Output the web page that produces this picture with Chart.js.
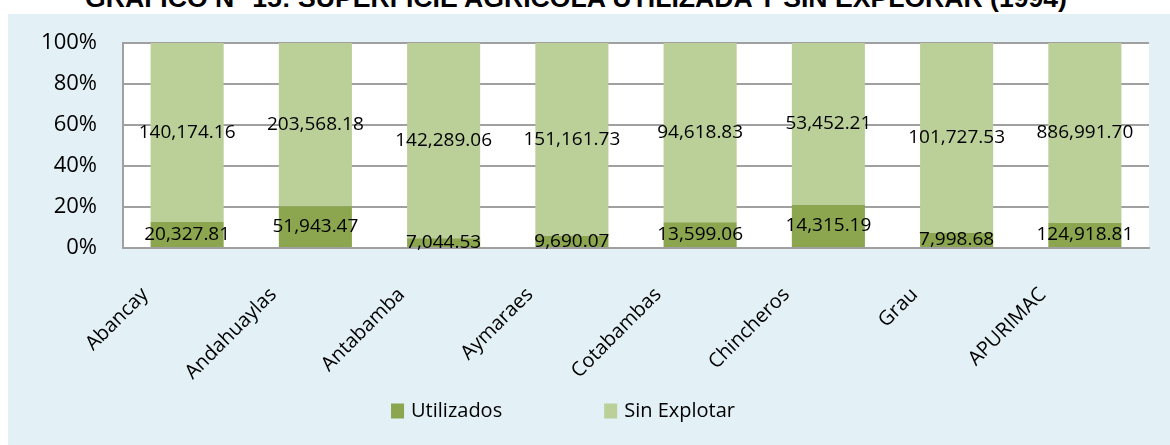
<!DOCTYPE html>
<html>
<head>
<meta charset="utf-8">
<script src="https://cdn.jsdelivr.net/npm/chart.js@4/dist/chart.umd.min.js"></script>
<style>
  html, body { margin: 0; padding: 0; background: #ffffff; width: 1170px; height: 445px; overflow: hidden; }
  #title { position: absolute; top: -17px; left: -9px; width: 1170px; text-align: center; white-space: nowrap;
           font-family: "Liberation Sans Narrow", "Liberation Sans", Arial, sans-serif; font-weight: bold;
           font-size: 31px; line-height: 30px; color: #000; }
  #title span { display: inline-block; }
  #panel { position: absolute; left: 8px; top: 14px; width: 1162px; height: 431px; background: #E3F0F6; }
</style>
</head>
<body>
<div id="title"><span id="titleText">GRÁFICO N° 15: SUPERFICIE AGRÍCOLA UTILIZADA Y SIN EXPLORAR (1994)</span></div>
<div id="panel"><canvas id="c" width="1162" height="431"></canvas></div>
<script>
const categories = ['Abancay', 'Andahuaylas', 'Antabamba', 'Aymaraes', 'Cotabambas', 'Chincheros', 'Grau', 'APURIMAC'];
const utilizados = [20327.81, 51943.47, 7044.53, 9690.07, 13599.06, 14315.19, 7998.68, 124918.81];
const sinExplotar = [140174.16, 203568.18, 142289.06, 151161.73, 94618.83, 53452.21, 101727.53, 886991.70];
const seriesNames = ['Utilizados', 'Sin Explotar'];
const yTicks = [0, 20, 40, 60, 80, 100];

// fit title width
(function () {
  const s = document.getElementById('titleText');
  const target = 982;
  const w = s.getBoundingClientRect().width;
  const fs = 31 * target / w;
  document.getElementById('title').style.fontSize = fs.toFixed(2) + 'px';
})();

const totals = categories.map((_, i) => utilizados[i] + sinExplotar[i]);
const pct = arr => arr.map((v, i) => v / totals[i] * 100);
const rawSeries = [utilizados, sinExplotar];
const colors = ['#8BA64F', '#BBCF99'];

const fmt = v => v.toLocaleString('en-US', { minimumFractionDigits: 2, maximumFractionDigits: 2 });

const plotBg = {
  id: 'plotBg',
  beforeDraw(chart) {
    const { ctx, chartArea: a } = chart;
    ctx.save();
    ctx.fillStyle = '#ffffff';
    ctx.fillRect(a.left, a.top, a.right - a.left, a.bottom - a.top);
    ctx.restore();
  }
};

const valueLabels = {
  id: 'valueLabels',
  afterDatasetsDraw(chart) {
    const ctx = chart.ctx;
    ctx.save();
    ctx.font = '19px "Open Sans"';
    ctx.fillStyle = '#000000';
    ctx.textAlign = 'center';
    ctx.textBaseline = 'middle';
    chart.data.datasets.forEach((ds, di) => {
      const meta = chart.getDatasetMeta(di);
      meta.data.forEach((el, i) => {
        const p = el.getCenterPoint();
        ctx.fillText(fmt(rawSeries[di][i]), p.x, p.y);
      });
    });
    ctx.restore();
  }
};

const customLegend = {
  id: 'customLegend',
  afterDraw(chart) {
    const ctx = chart.ctx;
    ctx.save();
    ctx.font = '20px "Open Sans"';
    ctx.textBaseline = 'middle';
    ctx.textAlign = 'left';
    const box = 13, boxH = 15, gapText = 7, gapItem = 102;
    const items = chart.data.datasets.map(ds => ({ text: ds.label, color: ds.backgroundColor, w: ctx.measureText(ds.label).width }));
    let total = 0;
    items.forEach((it, i) => { total += box + gapText + it.w + (i < items.length - 1 ? gapItem : 0); });
    const cx = 555, cy = 397;
    let x = cx - total / 2;
    items.forEach(it => {
      ctx.fillStyle = it.color;
      ctx.fillRect(x, cy - boxH / 2, box, boxH);
      x += box + gapText;
      ctx.fillStyle = '#000000';
      ctx.fillText(it.text, x, cy);
      x += it.w + gapItem;
    });
    ctx.restore();
  }
};

new Chart(document.getElementById('c'), {
  type: 'bar',
  data: {
    labels: categories,
    datasets: [
      { label: seriesNames[0], data: pct(utilizados), backgroundColor: colors[0], borderWidth: 0 },
      { label: seriesNames[1], data: pct(sinExplotar), backgroundColor: colors[1], borderWidth: 0 }
    ]
  },
  options: {
    responsive: false,
    animation: false,
    devicePixelRatio: 1,
    layout: { padding: { left: 0, right: 21, top: 29, bottom: 0 } },
    datasets: { bar: { categoryPercentage: 1, barPercentage: 0.57 } },
    plugins: { legend: { display: false }, tooltip: { enabled: false }, title: { display: false } },
    scales: {
      x: {
        stacked: true,
        grid: { display: false, drawTicks: false },
        border: { display: true, color: '#A0A0A0', width: 2 },
        ticks: {
          autoSkip: false, maxRotation: 45, minRotation: 45,
          font: { family: 'Open Sans', size: 20 }, color: '#000000',
          padding: 35, labelOffset: -42
        },
        afterFit(s) { s.height = 197; }
      },
      y: {
        stacked: true, min: 0, max: 100,
        afterBuildTicks(s) { s.ticks = yTicks.map(v => ({ value: v })); },
        grid: { color: '#A0A0A0', lineWidth: 2, drawTicks: true, tickLength: 14, tickColor: 'rgba(0,0,0,0)' },
        border: { display: true, color: '#A0A0A0', width: 2 },
        ticks: {
          callback: v => v + '%',
          font: { family: 'Open Sans', size: 22 }, color: '#000000',
          padding: 12
        },
        afterFit(s) { s.width = 115; }
      }
    }
  },
  plugins: [plotBg, valueLabels, customLegend]
});
</script>
</body>
</html>
